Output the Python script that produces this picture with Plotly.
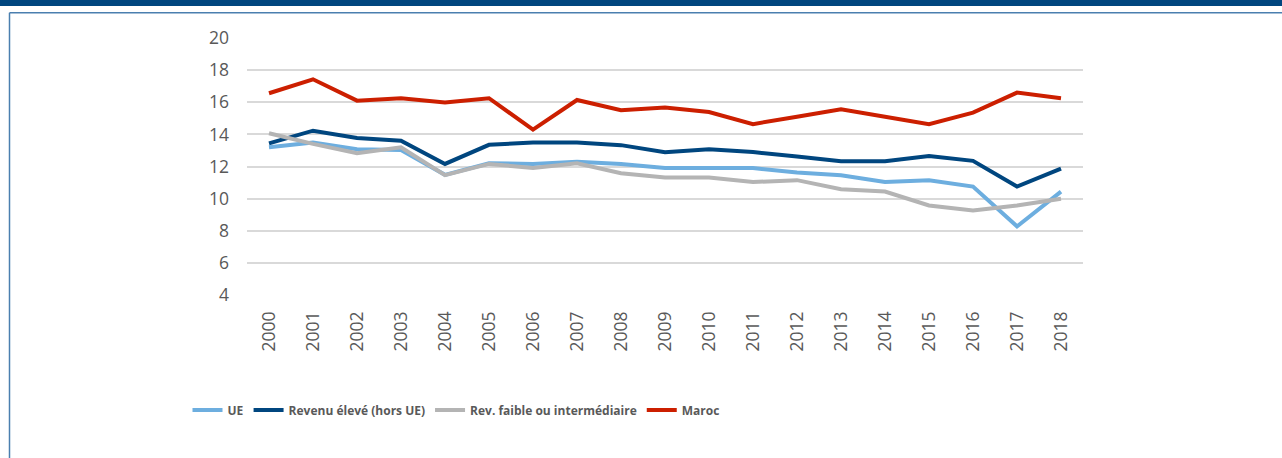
import plotly.graph_objects as go

years = [str(y) for y in range(2000, 2019)]
ue = [13.2, 13.49, 13.08, 13.03, 11.48, 12.2, 12.16, 12.3, 12.16, 11.9, 11.9, 11.9, 11.62, 11.46, 11.03, 11.15, 10.75, 8.27, 10.44]
revenu_eleve = [13.44, 14.23, 13.78, 13.61, 12.16, 13.35, 13.49, 13.49, 13.33, 12.89, 13.08, 12.9, 12.62, 12.33, 12.33, 12.66, 12.35, 10.75, 11.87]
rev_faible = [14.07, 13.41, 12.83, 13.2, 11.46, 12.16, 11.91, 12.2, 11.58, 11.31, 11.31, 11.03, 11.15, 10.59, 10.44, 9.57, 9.26, 9.57, 9.99]
maroc = [16.56, 17.43, 16.1, 16.25, 15.98, 16.25, 14.3, 16.14, 15.5, 15.68, 15.39, 14.64, 15.1, 15.56, 15.1, 14.64, 15.35, 16.6, 16.25]

series = [
    ("UE", ue, "#6DAEDF"),
    ("Revenu élevé (hors UE)", revenu_eleve, "#00467F"),
    ("Rev. faible ou intermédiaire", rev_faible, "#B4B4B4"),
    ("Maroc", maroc, "#CC1F00"),
]

W, H = 1282, 458
L, R, T, B = 247, 1083, 38, 295

fig = go.Figure()
for name, vals, col in series:
    fig.add_trace(go.Scatter(x=years, y=vals, name=name, mode="lines",
                             line=dict(color=col, width=4)))

def px(x):
    return (x - L) / (R - L)

def py(y):
    return (B - y) / (B - T)

shapes = [
    dict(type="rect", xref="paper", yref="paper", x0=px(-2), x1=px(W + 2), y0=py(6), y1=py(-2),
         fillcolor="#00467F", line=dict(width=0), layer="above"),
    dict(type="line", xref="paper", yref="paper", x0=px(9.5), x1=px(W + 5), y0=py(12.8), y1=py(12.8),
         line=dict(color="#4A7FAF", width=1.5)),
    dict(type="line", xref="paper", yref="paper", x0=px(9.5), x1=px(9.5), y0=py(12.8), y1=py(H + 5),
         line=dict(color="#4A7FAF", width=1.5)),
]

fig.update_layout(
    width=W, height=H,
    margin=dict(l=L, r=W - R, t=T, b=H - B, pad=0),
    paper_bgcolor="white", plot_bgcolor="white",
    shapes=shapes,
    showlegend=True,
    legend=dict(orientation="h", x=px(456), xanchor="center", y=py(410), yanchor="middle",
                font=dict(family="Open Sans, sans-serif", size=12, color="#595959", weight="bold"),
                itemwidth=30, tracegroupgap=0),
    xaxis=dict(type="category", range=[-0.5, 18.5], showgrid=False, zeroline=False,
               showline=False, ticks="", tickangle=-90, ticklabelstandoff=12,
               tickfont=dict(family="Open Sans", size=17.5, color="#595959")),
    yaxis=dict(range=[4, 20], dtick=2, tick0=4, showgrid=True, gridcolor="#D9D9D9", gridwidth=1.5,
               zeroline=False, showline=False, ticks="", ticklabelstandoff=17,
               tickfont=dict(family="Open Sans", size=17.5, color="#595959")),
)

fig.write_html("out.html", config={"displayModeBar": False},
               post_script="document.body.style.margin='0';document.body.style.overflow='hidden';")
